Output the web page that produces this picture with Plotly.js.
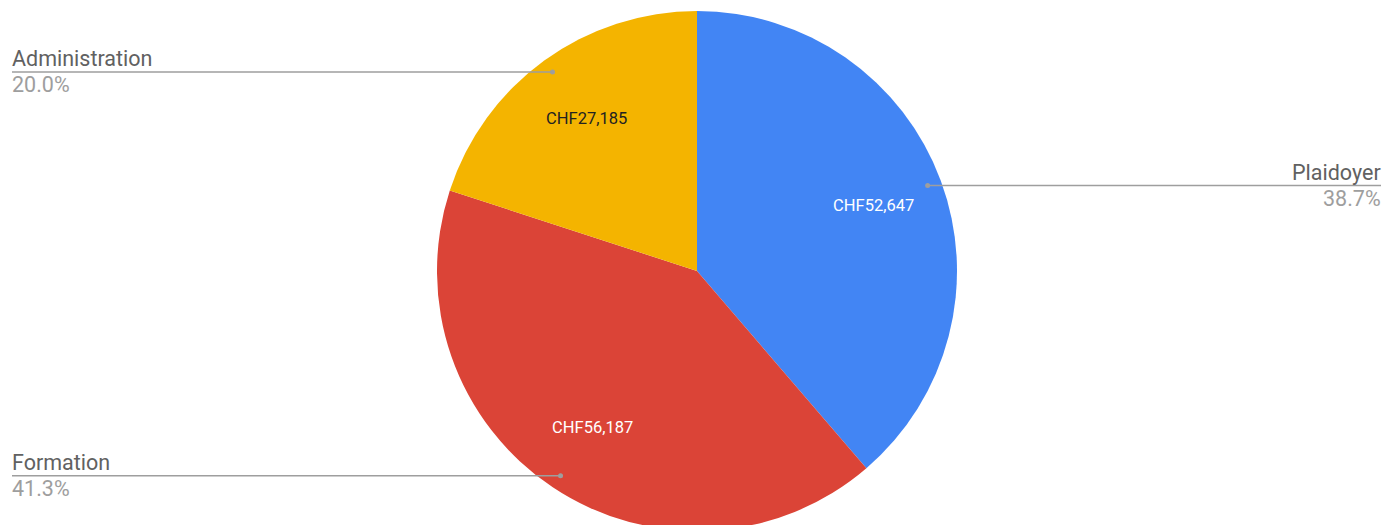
<!DOCTYPE html>
<html><head><meta charset="utf-8">
<script src="https://cdn.plot.ly/plotly-3.0.1.min.js"></script>
<style>html,body{margin:0;padding:0;overflow:hidden;background:#fff}#c{width:1384px;height:545px}</style>
</head><body><div id="c"></div>
<script>
const categories = ["Plaidoyer", "Formation", "Administration"];
const values = [52647, 56187, 27185];
const colors = ["#4285F4", "#DB4437", "#F4B400"];
const insideTextColors = ["#ffffff", "#ffffff", "#222222"];

const W = 1384, H = 545;
const cx = 697, cy = 271, R = 260;
const px = x => x / W, py = y => 1 - y / H;

const total = values.reduce((a, b) => a + b, 0);
const annotations = [], shapes = [];
let cum = 0;
values.forEach((v, i) => {
  const mid = (cum + v / 2) / total * 2 * Math.PI;
  cum += v;
  const dx = Math.sin(mid), dy = -Math.cos(mid);
  annotations.push({
    xref: "paper", yref: "paper",
    x: px(cx + dx * R * 0.725), y: py(cy + dy * R * 0.725),
    text: "CHF" + v.toLocaleString("en-US"),
    showarrow: false, xanchor: "center", yanchor: "middle",
    font: {family: "Roboto", size: 16.5, color: insideTextColors[i]}
  });
  const dotX = cx + dx * R * 0.946, dotY = cy + dy * R * 0.946;
  const right = dx > 0;
  const endX = right ? 1381 : 12;
  shapes.push({type: "line", xref: "paper", yref: "paper",
    x0: px(dotX), y0: py(dotY), x1: px(endX), y1: py(dotY),
    line: {color: "#9e9e9e", width: 1.5}});
  shapes.push({type: "circle", xref: "paper", yref: "paper",
    x0: px(dotX - 2.5), x1: px(dotX + 2.5), y0: py(dotY - 2.5), y1: py(dotY + 2.5),
    fillcolor: "#9e9e9e", line: {width: 0}});
  const xs = right ? 2 : -2;
  annotations.push({
    xref: "paper", yref: "paper", x: px(endX), y: py(dotY - 13), xshift: xs,
    text: categories[i], showarrow: false,
    xanchor: right ? "right" : "left", yanchor: "middle",
    font: {family: "Roboto", size: 21.5, color: "#616161"}
  });
  annotations.push({
    xref: "paper", yref: "paper", x: px(endX), y: py(dotY + 13), xshift: xs,
    text: (v / total * 100).toFixed(1) + "%", showarrow: false,
    xanchor: right ? "right" : "left", yanchor: "middle",
    font: {family: "Roboto", size: 21.5, color: "#9e9e9e"}
  });
});

const data = [{
  type: "pie",
  labels: categories,
  values: values,
  marker: {colors: colors, line: {width: 0}},
  sort: false,
  direction: "clockwise",
  rotation: 0,
  textinfo: "none",
  hoverinfo: "label+value+percent",
  domain: {x: [px(cx - R), px(cx + R)], y: [py(cy + R), py(cy - R)]}
}];

const layout = {
  width: W, height: H,
  margin: {l: 0, r: 0, t: 0, b: 0},
  paper_bgcolor: "#ffffff",
  showlegend: false,
  annotations: annotations,
  shapes: shapes
};
Plotly.newPlot("c", data, layout, {displayModeBar: false, staticPlot: true});
</script></body></html>
